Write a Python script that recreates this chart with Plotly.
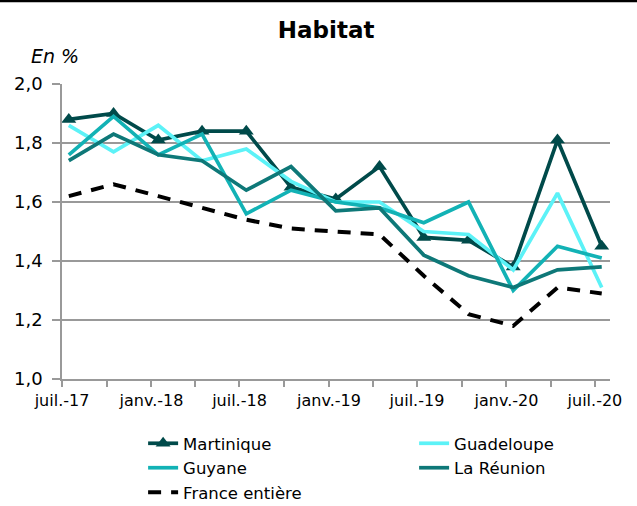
import plotly.graph_objects as go

dates = ["2017-07-15", "2017-10-15", "2018-01-15", "2018-04-15", "2018-07-15",
         "2018-10-15", "2019-01-15", "2019-04-15", "2019-07-15", "2019-10-15",
         "2020-01-15", "2020-04-15", "2020-07-15"]
martinique = [1.88, 1.90, 1.81, 1.84, 1.84, 1.65, 1.61, 1.72, 1.48, 1.47, 1.38, 1.81, 1.45]
guadeloupe = [1.86, 1.77, 1.86, 1.74, 1.78, 1.67, 1.60, 1.60, 1.50, 1.49, 1.37, 1.63, 1.31]
guyane = [1.76, 1.89, 1.76, 1.83, 1.56, 1.64, 1.60, 1.58, 1.53, 1.60, 1.30, 1.45, 1.41]
reunion = [1.74, 1.83, 1.76, 1.74, 1.64, 1.72, 1.57, 1.58, 1.42, 1.35, 1.31, 1.37, 1.38]
france = [1.62, 1.66, 1.62, 1.58, 1.54, 1.51, 1.50, 1.49, 1.35, 1.22, 1.18, 1.31, 1.29]

tick_dates = ["2017-07-01", "2017-10-01", "2018-01-01", "2018-04-01", "2018-07-01",
              "2018-10-01", "2019-01-01", "2019-04-01", "2019-07-01", "2019-10-01",
              "2020-01-01", "2020-04-01", "2020-07-01"]
tick_labels = ["juil.-17", "", "janv.-18", "", "juil.-18", "", "janv.-19", "",
               "juil.-19", "", "janv.-20", "", "juil.-20"]

FONT = "DejaVu Sans"
fig = go.Figure()
fig.add_trace(go.Scatter(x=dates, y=martinique, name="Martinique", mode="lines+markers",
                         line=dict(color="#004A4A", width=3.7),
                         marker=dict(symbol="triangle-up", size=13, color="#004A4A")))
fig.add_trace(go.Scatter(x=dates, y=guadeloupe, name="Guadeloupe", mode="lines",
                         line=dict(color="#5CF2F7", width=3.7)))
fig.add_trace(go.Scatter(x=dates, y=guyane, name="Guyane", mode="lines",
                         line=dict(color="#12B2B5", width=3.7)))
fig.add_trace(go.Scatter(x=dates, y=reunion, name="La Réunion", mode="lines",
                         line=dict(color="#0E7878", width=3.7)))
fig.add_trace(go.Scatter(x=dates, y=france, name="France entière", mode="lines",
                         line=dict(color="#000000", width=4, dash="13px,10px")))

fig.update_layout(
    width=637, height=506,
    margin=dict(l=62, r=27, t=84, b=127, autoexpand=False),
    paper_bgcolor="white", plot_bgcolor="white",
    separators=", ",
    font=dict(family=FONT, size=16, color="#000"),
    title=dict(text="<b>Habitat</b>", x=0.512, xanchor="center", y=0.94, yanchor="middle",
               font=dict(family=FONT, size=23, color="#000")),
    showlegend=True,
    legend=dict(orientation="h", x=0.148, xanchor="left", xref="paper",
                y=0.158, yanchor="top", yref="container",
                entrywidth=226, entrywidthmode="pixels", tracegroupgap=0,
                font=dict(family=FONT, size=16.5, color="#000"),
                bgcolor="rgba(0,0,0,0)"),
    xaxis=dict(type="date", range=["2017-07-01", "2020-08-01"],
               tickvals=tick_dates, ticktext=tick_labels,
               showgrid=False, showline=True, linecolor="#999999", linewidth=1.5,
               ticks="outside", ticklen=6, tickcolor="#999999", tickwidth=1.5,
               tickfont=dict(family=FONT, size=16), zeroline=False),
    yaxis=dict(range=[1.0, 2.0], dtick=0.2, tick0=1.0, tickformat=".1f",
               showgrid=True, gridcolor="#999999", gridwidth=1.5,
               showline=True, linecolor="#999999", linewidth=1.5,
               ticks="outside", ticklen=8, tickcolor="#999999", tickwidth=1.5,
               ticklabelstandoff=6,
               tickfont=dict(family=FONT, size=18), zeroline=False),
)
fig.add_annotation(text="<i>En %</i>", xref="paper", yref="paper", x=-0.06, y=1.095,
                   xanchor="left", yanchor="middle", showarrow=False,
                   font=dict(family=FONT, size=19, color="#000"))
fig.add_shape(type="line", xref="paper", yref="paper", x0=-0.2, x1=1.2, y0=1.282, y1=1.282,
              line=dict(color="#000", width=3))
fig.write_html("out.html")
